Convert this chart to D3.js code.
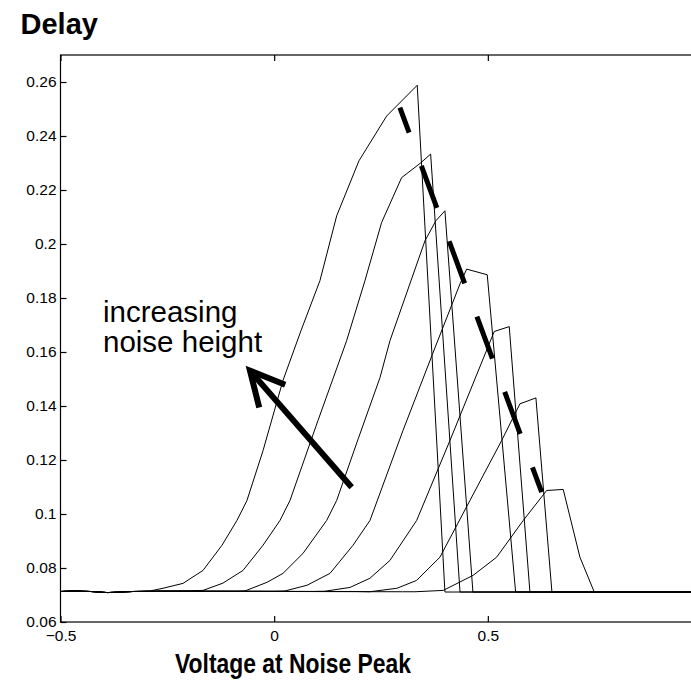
<!DOCTYPE html>
<html><head><meta charset="utf-8">
<script src="https://cdn.jsdelivr.net/npm/d3@7"></script>
<style>html,body{margin:0;padding:0;background:#fff;}svg{display:block;}</style>
</head><body>
<script>
// ---- data ----
const xTicks = [-0.5, 0, 0.5, 1];
const xTickLabels = ["\u22120.5", "0", "0.5", ""];
const yTicks = [0.06, 0.08, 0.10, 0.12, 0.14, 0.16, 0.18, 0.20, 0.22, 0.24, 0.26];
const yTickLabels = ["0.06","0.08","0.1","0.12","0.14","0.16","0.18","0.2","0.22","0.24","0.26"];
const baselineLeft = [[-0.5,0.0713],[-0.47,0.0715],[-0.43,0.0713],[-0.39,0.0709],[-0.33,0.0713],[-0.27,0.0714]];
const baselineRightY = 0.0711;
const curve1 = [[-0.29,0.0715],[-0.2602,0.0725],[-0.2134,0.0743],[-0.1666,0.0791],[-0.1222,0.0884],[-0.0871,0.0976],[-0.0637,0.1050],[-0.026,0.1235],[0.0205,0.1494],[0.063,0.168],[0.1071,0.1864],[0.1462,0.2104],[0.1984,0.2308],[0.2632,0.2474],[0.3348,0.2588],[0.3996,0.0711]];
const curve2 = [[-0.19,0.0716],[-0.1666,0.0717],[-0.1198,0.0744],[-0.0730,0.0791],[-0.0262,0.0884],[0.0136,0.0976],[0.0370,0.1050],[0.1025,0.1346],[0.1696,0.1642],[0.2124,0.1864],[0.2515,0.2080],[0.2983,0.2246],[0.3411,0.2298],[0.3662,0.2333],[0.4349,0.0711]];
const curve3 = [[-0.09,0.0714],[-0.0683,0.0715],[-0.0168,0.0747],[0.0206,0.0780],[0.0674,0.0854],[0.1228,0.0976],[0.1462,0.1050],[0.197,0.128],[0.2476,0.1505],[0.2710,0.1642],[0.3529,0.2012],[0.3784,0.2086],[0.3996,0.2123],[0.4651,0.0711]];
const curve4 = [[0.0,0.0714],[0.0253,0.0715],[0.0768,0.0736],[0.1306,0.0780],[0.1844,0.0884],[0.2242,0.0976],[0.3014,0.1309],[0.3700,0.1590],[0.4348,0.1852],[0.4504,0.1907],[0.4986,0.1886],[0.5650,0.0711]];
const curve5 = [[0.09,0.0713],[0.1188,0.0714],[0.1773,0.0728],[0.2241,0.0762],[0.2709,0.0828],[0.3334,0.0976],[0.4113,0.1272],[0.5150,0.1676],[0.5501,0.1694],[0.5985,0.0711]];
const curve6 = [[0.19,0.0713],[0.2241,0.0712],[0.2873,0.0725],[0.3334,0.0754],[0.3879,0.0840],[0.4581,0.1050],[0.5323,0.1272],[0.5751,0.1408],[0.6125,0.1430],[0.6500,0.0711]];
const curve7 = [[0.30,0.0712],[0.3294,0.0712],[0.3957,0.0717],[0.4658,0.0773],[0.5206,0.0840],[0.5828,0.0976],[0.6376,0.1087],[0.6764,0.1091],[0.7155,0.0840],[0.7490,0.0711]];
const curves = [curve1, curve2, curve3, curve4, curve5, curve6, curve7];
const trendStart = [0.2942, 0.2505];
const trendEnd = [0.6259, 0.1081];
const arrowTail = [0.1813, 0.1099];
const arrowTip = [-0.0566, 0.1531];
const annotationLines = ["increasing", "noise height"];
const titleText = "Delay";
const xLabelText = "Voltage at Noise Peak";

// ---- drawing ----
const W = 691, H = 680;
const x = d3.scaleLinear().domain([-0.5, 1.0]).range([60.5, 701.5]);
const y = d3.scaleLinear().domain([0.06, 0.27]).range([622, 55]);
const FONT = "'Liberation Sans', Arial, Helvetica, sans-serif";

const svg = d3.select("body").append("svg").attr("width", W).attr("height", H)
  .style("font-family", FONT);
svg.append("rect").attr("width", W).attr("height", H).attr("fill", "#fff");

const line = d3.line().x(d => x(d[0])).y(d => y(d[1]));

// curves
const g = svg.append("g");
curves.forEach(c => {
  const pts = baselineLeft.filter(p => p[0] < c[0][0]).concat(c, [[1.0, baselineRightY]]);
  g.append("path").attr("d", line(pts)).attr("fill", "none")
    .attr("stroke", "#000").attr("stroke-width", 1).attr("stroke-linejoin", "round");
});

// dashed trend line
svg.append("path").attr("d", line([trendStart, trendEnd]))
  .attr("stroke", "#000").attr("stroke-width", 5).attr("fill", "none")
  .attr("stroke-dasharray", "44.8,35.5").attr("stroke-dashoffset", 18.2);

// axes frame
const frame = svg.append("g");
frame.append("rect").attr("x", x(-0.5)).attr("y", y(0.27))
  .attr("width", x(1.0) - x(-0.5)).attr("height", y(0.06) - y(0.27))
  .attr("fill", "none").attr("stroke", "#000").attr("stroke-width", 1.2);

const axB = d3.axisBottom(x).tickValues(xTicks).tickFormat((d, i) => xTickLabels[i])
  .tickSizeInner(-6).tickSizeOuter(0).tickPadding(8);
const gB = svg.append("g").attr("transform", `translate(0,${y(0.06)})`).call(axB);
const axT = d3.axisTop(x).tickValues(xTicks).tickFormat("").tickSizeInner(-6).tickSizeOuter(0);
const gT = svg.append("g").attr("transform", `translate(0,${y(0.27)})`).call(axT);
const axL = d3.axisLeft(y).tickValues(yTicks).tickFormat((d, i) => yTickLabels[i])
  .tickSizeInner(-6).tickSizeOuter(0).tickPadding(4);
const gL = svg.append("g").attr("transform", `translate(${x(-0.5)},0)`).call(axL);
[gB, gT, gL].forEach(a => {
  a.select(".domain").remove();
  a.selectAll("line").attr("stroke", "#000").attr("stroke-width", 1.2);
  a.selectAll("text").attr("fill", "#000").style("font-size", "15.5px").style("font-family", FONT);
});
gB.selectAll("text").attr("dy", "0.71em");

// arrow
const tx = x(arrowTip[0]), ty = y(arrowTip[1]);
const ang = Math.atan2(y(arrowTail[1]) - ty, x(arrowTail[0]) - tx);
const hl = 38, ha = 27 * Math.PI / 180;
svg.append("path").attr("d", line([arrowTail, arrowTip])).attr("stroke", "#000")
  .attr("stroke-width", 6).attr("fill", "none");
svg.append("path")
  .attr("d", `M${tx + hl * Math.cos(ang - ha)},${ty + hl * Math.sin(ang - ha)}L${tx},${ty}L${tx + hl * Math.cos(ang + ha)},${ty + hl * Math.sin(ang + ha)}`)
  .attr("stroke", "#000").attr("stroke-width", 6).attr("fill", "none").attr("stroke-linejoin", "miter");

// annotation text
annotationLines.forEach((t, i) => {
  svg.append("text").attr("x", 103).attr("y", 321.5 + i * 30).text(t)
    .attr("fill", "#000").style("font-size", "29.5px");
});

// title and x label
svg.append("text").attr("x", 20.5).attr("y", 34).text(titleText)
  .attr("fill", "#000").style("font-size", "29px").style("font-weight", "bold");
svg.append("text").attr("x", 175).attr("y", 673).text(xLabelText)
  .attr("textLength", 236).attr("lengthAdjust", "spacingAndGlyphs")
  .attr("fill", "#000").style("font-size", "27px").style("font-weight", "bold");
</script>
</body></html>
